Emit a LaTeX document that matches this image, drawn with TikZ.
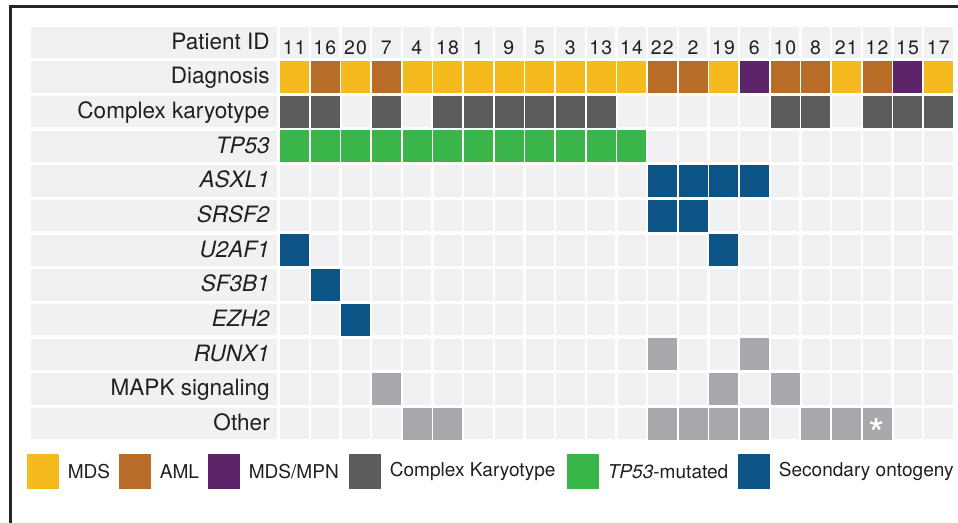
\documentclass[tikz,border=0pt]{standalone}
\usepackage{fontspec}
\setmainfont{TeX Gyre Heros}
\newfontfamily\idfont[LetterSpace=6]{TeX Gyre Heros}
\usetikzlibrary{positioning}
\definecolor{inkdark}{HTML}{231F20}
\definecolor{framedark}{HTML}{262626}
\definecolor{cellgrey}{HTML}{F1F1F3}
\definecolor{mdsyellow}{HTML}{F5BA1E}
\definecolor{amlbrown}{HTML}{B76D28}
\definecolor{mpnpurple}{HTML}{5E2469}
\definecolor{ckgrey}{HTML}{5B5C5E}
\definecolor{tpgreen}{HTML}{39B54A}
\definecolor{secblue}{HTML}{0C5485}
\definecolor{othergrey}{HTML}{A7A8AB}

\begin{document}
\begin{tikzpicture}[x=0.75pt, y=-0.75pt,
    cell/.style={rectangle, fill=cellgrey, inner sep=0pt, anchor=north west, minimum width=21.25pt, minimum height=23.6pt},
    labcell/.style={rectangle, fill=cellgrey, inner sep=0pt, anchor=north west, minimum width=184.5pt, minimum height=23.6pt},
    rowlab/.style={inner sep=0pt, anchor=base east, font=\fontsize{16.9}{18}\selectfont, text=inkdark},
    idlab/.style={inner sep=0pt, anchor=base, font=\fontsize{14.6}{16}\idfont, text=inkdark},
    keybox/.style={rectangle, inner sep=0pt, anchor=north west, minimum width=24pt, minimum height=26pt},
    keylab/.style={inner sep=0pt, anchor=west, font=\fontsize{14.3}{16}\selectfont, text=inkdark}
  ]
    \clip (0,0) rectangle (958,523);
    \fill[white] (0,0) rectangle (958,523);
    \draw[framedark, line width=2.2pt] (10.5,560) |- (990,6.5);

    % grid
    \foreach \r in {0,...,11} {
      \node[labcell] (lab\r) at (31,{26.3+34.67*\r}) {};
      \foreach \c in {0,...,21}
        \node[cell] (c\r-\c) at ({280+30.67*\c},{26.3+34.67*\r}) {};
    }

    \foreach \txt [count=\r from 0] in {Patient ID, Diagnosis, Complex karyotype, \textit{TP53}, \textit{ASXL1}, \textit{SRSF2}, \textit{U2AF1}, \textit{SF3B1}, \textit{EZH2}, \textit{RUNX1}, MAPK signaling, Other}
      \node[rowlab] (t\r) at ({270},{26.3+34.67*\r+22.8}) {\txt};

    \foreach \pid [count=\c from 0] in {11,16,20,7,4,18,1,9,5,3,13,14,22,2,19,6,10,8,21,12,15,17}
      \node[idlab] (id\c) at ({280+30.67*\c+14.2},55) {\pid};

    % diagnosis
    \foreach \c/\col in {0/mdsyellow,1/amlbrown,2/mdsyellow,3/amlbrown,4/mdsyellow,5/mdsyellow,6/mdsyellow,7/mdsyellow,8/mdsyellow,9/mdsyellow,10/mdsyellow,11/mdsyellow,12/amlbrown,13/amlbrown,14/mdsyellow,15/mpnpurple,16/amlbrown,17/amlbrown,18/mdsyellow,19/amlbrown,20/mpnpurple,21/mdsyellow}
      \fill[\col] (c1-\c.north west) rectangle (c1-\c.south east);

    \foreach \c in {0,1,3,5,6,7,8,9,10,16,17,19,20,21}
      \fill[ckgrey] (c2-\c.north west) rectangle (c2-\c.south east);
    \foreach \c in {0,...,11}
      \fill[tpgreen] (c3-\c.north west) rectangle (c3-\c.south east);

    % mutations
    \foreach \r/\c in {4/12,4/13,4/14,4/15,5/12,5/13,6/0,6/14,7/1,8/2}
      \fill[secblue] (c\r-\c.north west) rectangle (c\r-\c.south east);
    \foreach \r/\c in {9/12,9/15,10/3,10/14,10/16,11/4,11/5,11/12,11/13,11/14,11/15,11/17,11/18,11/19}
      \fill[othergrey] (c\r-\c.north west) rectangle (c\r-\c.south east);
    \node[text=white, font=\fontsize{32}{32}\selectfont, inner sep=0pt, anchor=base] (star) at ([yshift=-19pt]c11-19.center) {*};

    % legend
    \node[keybox, fill=mdsyellow] (k1) at (27,454) {};
    \node[keylab, right=6pt of k1] (kl1) {MDS};
    \node[keybox, fill=amlbrown] (k2) at (119,454) {};
    \node[keylab, right=6pt of k2] (kl2) {AML};
    \node[keybox, fill=mpnpurple] (k3) at (208,454) {};
    \node[keylab, right=6pt of k3] (kl3) {MDS/MPN};
    \node[keybox, fill=ckgrey] (k4) at (349,454) {};
    \node[keylab, right=6pt of k4] (kl4) {Complex Karyotype};
    \node[keybox, fill=tpgreen] (k5) at (567,454) {};
    \node[keylab, right=6pt of k5] (kl5) {\textit{TP53}-mutated};
    \node[keybox, fill=secblue] (k6) at (738,454) {};
    \node[keylab, right=6pt of k6] (kl6) {Secondary ontogeny};
\end{tikzpicture}
\end{document}
